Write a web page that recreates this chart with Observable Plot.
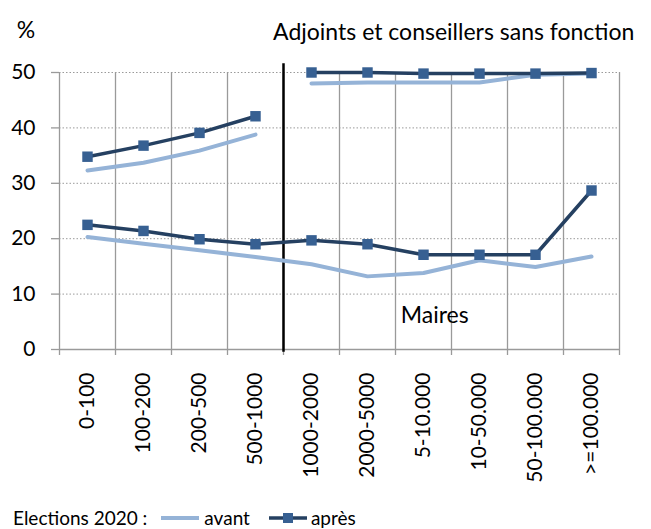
<!DOCTYPE html>
<html><head><meta charset="utf-8">
<script src="https://cdn.jsdelivr.net/npm/d3@7"></script>
<script src="https://cdn.jsdelivr.net/npm/@observablehq/plot@0.6"></script>
<style>
body{margin:0;background:#fff;font-family:Lato,"Open Sans",sans-serif;}
#wrap{position:relative;width:651px;height:529px;overflow:hidden;}
#legend{position:absolute;left:13px;top:507px;height:21px;line-height:21px;display:flex;align-items:center;font-size:19px;color:#000;white-space:nowrap;}
#legend svg{display:block}
</style></head>
<body><div id="wrap"><div id="chart"></div>
<div id="legend"></div></div>
<script>
const categories = ["0-100","100-200","200-500","500-1000","1000-2000","2000-5000","5-10.000","10-50.000","50-100.000",">=100.000"];
const mairesAvant = [20.3, 19.1, 17.9, 16.7, 15.4, 13.2, 13.8, 16.1, 14.9, 16.8];
const mairesApres = [22.5, 21.4, 19.9, 19.0, 19.7, 19.0, 17.1, 17.1, 17.1, 28.7];
const adjointsAvant = [32.3, 33.7, 35.9, 38.8, 48.0, 48.2, 48.2, 48.2, 49.6, 49.8];
const adjointsApres = [34.8, 36.8, 39.1, 42.1, 50.0, 50.0, 49.8, 49.8, 49.8, 49.9];
const yTicks = [0, 10, 20, 30, 40, 50];
const legendTitle = "Elections 2020 :";
const seriesNames = ["avant", "après"];

const cAvant = "#95B3D7", cApres = "#254061", cMarker = "#376092";
const FONT = "Lato, 'Open Sans', sans-serif";

const idx = categories.map((_, i) => i);
const bounds = d3.range(-0.5, categories.length, 1);
const rows = (vals, series, group, broken) => vals.map((v, i) => ({i, v, series, group, seg: broken ? (i < 4 ? 0 : 1) : 0}));
const avant = [...rows(mairesAvant, "avant", "maires", false), ...rows(adjointsAvant, "avant", "adjoints", true)];
const apres = [...rows(mairesApres, "après", "maires", false), ...rows(adjointsApres, "après", "adjoints", true)];

const chart = Plot.plot({
  width: 651, height: 495,
  marginLeft: 59, marginRight: 32, marginTop: 72, marginBottom: 146,
  style: {fontFamily: FONT, fontSize: "20px", color: "#000", background: "#fff", overflow: "visible"},
  x: {domain: [-0.5, categories.length - 0.5], label: null},
  y: {domain: [0, 50], label: null},
  marks: [
    Plot.ruleY(yTicks.slice(1), {stroke: "#9a9a9a", strokeDasharray: "1.5,2", strokeWidth: 1}),
    Plot.ruleX(bounds, {y1: 0, y2: 50, stroke: "#9a9a9a", strokeWidth: 1.3}),
    Plot.ruleY([0], {stroke: "#9a9a9a", strokeWidth: 1.3}),
    Plot.axisX(bounds, {tickSize: 6, tickFormat: () => "", stroke: "#9a9a9a", strokeWidth: 1.3, label: null}),
    Plot.axisX(idx, {tickSize: 0, tickPadding: 23, tickRotate: -90, tickFormat: i => categories[i], fontSize: 21, label: null}),
    Plot.axisY(yTicks, {tickSize: 8, tickPadding: 16, stroke: "#9a9a9a", strokeWidth: 1.3, fontSize: 21, label: null}),
    Plot.ruleX([3.5], {y1: -0.5, y2: 51.6, stroke: "#000", strokeWidth: 2.5}),
    Plot.line(avant, {x: "i", y: "v", z: d => d.group + d.seg, stroke: cAvant, strokeWidth: 4, curve: "linear"}),
    Plot.line(apres, {x: "i", y: "v", z: d => d.group + d.seg, stroke: cApres, strokeWidth: 3.5, curve: "linear"}),
    Plot.dot(apres, {x: "i", y: "v", symbol: "square", r: 5.9, fill: cMarker, stroke: null}),
    Plot.text(["%"], {x: -1.1, y: 57.6, text: d => d, fontSize: 23, textAnchor: "middle"}),
    Plot.text(["Adjoints et conseillers sans fonction"], {x: 6.54, y: 57.2, text: d => d, fontSize: 23, textAnchor: "middle"}),
    Plot.text(["Maires"], {x: 6.2, y: 6.1, text: d => d, fontSize: 23, textAnchor: "middle"})
  ]
});
document.getElementById("chart").append(chart);

const lg = document.getElementById("legend");
const sw = (color, marker) => {
  const s = d3.create("svg").attr("width", 40).attr("height", 14);
  s.append("line").attr("x1", 1).attr("x2", 39).attr("y1", 7).attr("y2", 7)
    .attr("stroke", color).attr("stroke-width", marker ? 3.5 : 4);
  if (marker) s.append("rect").attr("x", 15).attr("y", 2).attr("width", 10).attr("height", 10).attr("fill", cMarker);
  return s.node();
};
const span = (t, ml) => { const e = document.createElement("span"); e.textContent = t; e.style.marginLeft = ml + "px"; return e; };
lg.append(span(legendTitle, 0));
const s1 = sw(cAvant, false); s1.style.marginLeft = "13px"; lg.append(s1);
lg.append(span(seriesNames[0], 4));
const s2 = sw(cApres, true); s2.style.marginLeft = "18px"; lg.append(s2);
lg.append(span(seriesNames[1], 3));
</script></body></html>
